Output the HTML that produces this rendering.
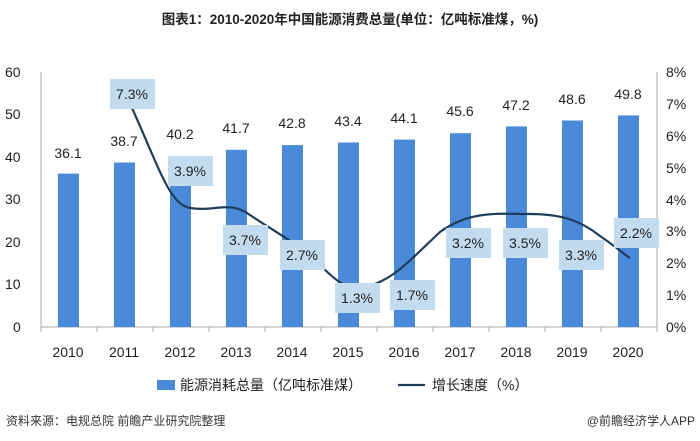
<!DOCTYPE html>
<html><head><meta charset="utf-8"><style>
body{margin:0;background:#fff;}
svg{display:block;font-family:"Liberation Sans","Noto Sans CJK SC",sans-serif;}
</style></head><body>
<svg width="700" height="441" viewBox="0 0 700 441">
<text x="350" y="24" text-anchor="middle" font-size="13.5" font-weight="bold" fill="#222">图表1：2010-2020年中国能源消费总量(单位：亿吨标准煤，%)</text>
<g font-size="14" fill="#222">
<text x="5" y="77">60</text><text x="5" y="119">50</text><text x="5" y="162">40</text><text x="5" y="204">30</text><text x="5" y="247">20</text><text x="5" y="289">10</text><text x="13" y="332">0</text>
<text x="666" y="77">8%</text><text x="666" y="109">7%</text><text x="666" y="141">6%</text><text x="666" y="173">5%</text><text x="666" y="205">4%</text><text x="666" y="236">3%</text><text x="666" y="268">2%</text><text x="666" y="300">1%</text><text x="666" y="332">0%</text>
</g>
<line x1="41" y1="72" x2="41" y2="327" stroke="#aaa"/>
<line x1="657" y1="72" x2="657" y2="327" stroke="#aaa"/>
<line x1="41" y1="327" x2="657" y2="327" stroke="#aaa"/>
<g stroke="#aaa">
<line x1="97" y1="327" x2="97" y2="332"/><line x1="153" y1="327" x2="153" y2="332"/><line x1="209" y1="327" x2="209" y2="332"/><line x1="265" y1="327" x2="265" y2="332"/><line x1="321" y1="327" x2="321" y2="332"/><line x1="377" y1="327" x2="377" y2="332"/><line x1="433" y1="327" x2="433" y2="332"/><line x1="489" y1="327" x2="489" y2="332"/><line x1="545" y1="327" x2="545" y2="332"/><line x1="601" y1="327" x2="601" y2="332"/><line x1="41" y1="327" x2="41" y2="332"/><line x1="657" y1="327" x2="657" y2="332"/>
</g>
<g fill="#4a8ad8">
<rect x="58" y="173.6" width="21" height="153.4"/>
<rect x="114" y="162.5" width="21" height="164.5"/>
<rect x="170" y="156.2" width="21" height="170.8"/>
<rect x="226" y="149.8" width="21" height="177.2"/>
<rect x="282" y="145.1" width="21" height="181.9"/>
<rect x="338" y="142.5" width="21" height="184.5"/>
<rect x="394" y="139.6" width="21" height="187.4"/>
<rect x="450" y="133.2" width="21" height="193.8"/>
<rect x="506" y="126.4" width="21" height="200.6"/>
<rect x="562" y="120.5" width="21" height="206.5"/>
<rect x="618" y="115.4" width="21" height="211.6"/>
</g>
<g font-size="14" fill="#222" text-anchor="middle">
<text x="68" y="158">36.1</text><text x="124" y="146">38.7</text><text x="180" y="139">40.2</text><text x="236" y="133">41.7</text><text x="292" y="128">42.8</text><text x="348" y="126">43.4</text><text x="404" y="123">44.1</text><text x="460" y="116">45.6</text><text x="516" y="110">47.2</text><text x="572" y="104">48.6</text><text x="628" y="99">49.8</text>
</g>
<path d="M132,108 C160,170 170,205 190,208 C215,212 230,200 250,215 C280,235 300,245 320,265 C340,285 350,290 360,288 C390,283 405,265 440,232 C470,210 500,214 530,214 C560,214 580,220 600,236 C615,246 625,255 630,258" fill="none" stroke="#1f3d5a" stroke-width="2.2"/>
<g fill="#c3dbef">
<rect x="110" y="79" width="45" height="30"/>
<rect x="168" y="156" width="45" height="30"/>
<rect x="223" y="225" width="45" height="30"/>
<rect x="280" y="240" width="45" height="30"/>
<rect x="335" y="283" width="45" height="30"/>
<rect x="390" y="280" width="45" height="30"/>
<rect x="446" y="228" width="45" height="30"/>
<rect x="503" y="228" width="45" height="30"/>
<rect x="559" y="240" width="45" height="30"/>
<rect x="614" y="218" width="45" height="30"/>
</g>
<g font-size="14" fill="#222" text-anchor="middle">
<text x="132" y="99">7.3%</text><text x="190" y="176">3.9%</text><text x="245" y="245">3.7%</text><text x="302" y="260">2.7%</text><text x="357" y="303">1.3%</text><text x="412" y="300">1.7%</text><text x="468" y="248">3.2%</text><text x="525" y="248">3.5%</text><text x="581" y="260">3.3%</text><text x="636" y="238">2.2%</text>
</g>
<g font-size="14" fill="#222" text-anchor="middle">
<text x="68" y="357">2010</text><text x="124" y="357">2011</text><text x="180" y="357">2012</text><text x="236" y="357">2013</text><text x="292" y="357">2014</text><text x="348" y="357">2015</text><text x="404" y="357">2016</text><text x="460" y="357">2017</text><text x="516" y="357">2018</text><text x="572" y="357">2019</text><text x="628" y="357">2020</text>
</g>
<rect x="157" y="380" width="18" height="10" fill="#4a8ad8"/>
<text x="180" y="390" font-size="14" fill="#222">能源消耗总量（亿吨标准煤）</text>
<line x1="398" y1="385" x2="425" y2="385" stroke="#1f3d5a" stroke-width="2.2"/>
<text x="432" y="390" font-size="14" fill="#222">增长速度（%）</text>
<text x="6" y="425" font-size="12" fill="#333">资料来源：电规总院 前瞻产业研究院整理</text>
<text x="695" y="425" font-size="12" fill="#333" text-anchor="end">@前瞻经济学人APP</text>
</svg>
</body></html>
